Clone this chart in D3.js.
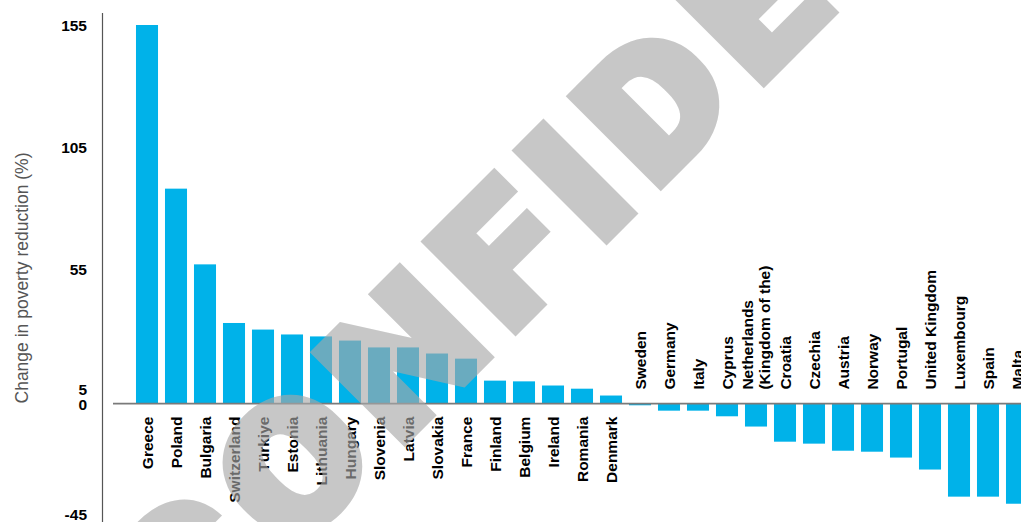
<!DOCTYPE html>
<html>
<head>
<meta charset="utf-8">
<script src="https://cdn.jsdelivr.net/npm/d3@7"></script>
<style>
  html, body { margin: 0; padding: 0; background: #fff; }
  svg { display: block; }
</style>
</head>
<body>
<svg id="chart" width="1021" height="522"></svg>
<script>
const countries = ["Greece","Poland","Bulgaria","Switzerland","Türkiye","Estonia","Lithuania","Hungary","Slovenia","Latvia","Slovakia","France","Finland","Belgium","Ireland","Romania","Denmark","Sweden","Germany","Italy","Cyprus","Netherlands|(Kingdom of the)","Croatia","Czechia","Austria","Norway","Portugal","United Kingdom","Luxembourg","Spain","Malta"];
const values = [155, 88, 57, 33, 30.3, 28.3, 27.5, 25.8, 23, 23, 20.5, 18.4, 9.4, 9.1, 7.4, 6.1, 3.3, -0.7, -2.9, -2.9, -5.2, -9.4, -15.6, -16.4, -19.3, -19.7, -22.1, -27, -38.1, -38.1, -41];
const yTicks = [-45, 0, 5, 55, 105, 155];
const yTitle = "Change in poverty reduction (%)";
const watermark = "CONFIDENTIAL";

const svg = d3.select("#chart");
const W = 1021, H = 522;
const data = countries.map((c, i) => ({ key: c, lines: c.split("|"), v: values[i] }));

const x = d3.scaleBand().domain(countries).range([132.5, 132.5 + 29 * countries.length])
  .paddingInner(0.24).paddingOuter(0.12);
const y = d3.scaleLinear().domain([-45, 155]).range([513.5, 25]);

// vertical axis line
svg.append("line").attr("x1", 102.5).attr("x2", 102.5).attr("y1", 13).attr("y2", H)
  .attr("stroke", "#555").attr("stroke-width", 1.2);

// y tick labels
const yAxis = d3.axisLeft(y).tickValues(yTicks).tickSize(0).tickPadding(0)
  .tickFormat(d => String(d));
const gy = svg.append("g").attr("transform", "translate(87,0)").call(yAxis);
gy.select(".domain").remove();
gy.selectAll("text").attr("font-family", "'Liberation Sans', Arial, sans-serif")
  .attr("font-weight", "bold").attr("font-size", 15.5).attr("fill", "#000")
  .attr("dy", d => d === 5 ? "0.2em" : "0.36em");

// y title
svg.append("text").attr("transform", `translate(28,278) rotate(-90)`)
  .attr("text-anchor", "middle").attr("font-family", "'Liberation Sans', Arial, sans-serif")
  .attr("font-size", 17.5).attr("fill", "#555").text(yTitle);

// bars
svg.append("g").selectAll("rect").data(data).join("rect")
  .attr("x", d => x(d.key)).attr("width", x.bandwidth())
  .attr("y", d => y(Math.max(0, d.v))).attr("height", d => Math.abs(y(d.v) - y(0)))
  .attr("fill", "#00b2e9");

// zero line
svg.append("line").attr("x1", 113).attr("x2", W).attr("y1", y(0)).attr("y2", y(0))
  .attr("stroke", "#7a7a7a").attr("stroke-width", 1.6);

// category labels
const lab = svg.append("g").selectAll("text").data(data).join("text")
  .attr("transform", d => {
    const cx = x(d.key) + x.bandwidth() / 2;
    const ty = d.v >= 0 ? y(0) + 13 : y(0) - 14;
    return `translate(${cx},${ty}) rotate(-90)`;
  })
  .attr("text-anchor", d => d.v >= 0 ? "end" : "start")
  .attr("font-family", "'Liberation Sans', Arial, sans-serif")
  .attr("font-weight", "bold").attr("font-size", 15.5).attr("fill", "#000");
lab.each(function(d) {
  const t = d3.select(this);
  const n = d.lines.length;
  d.lines.forEach((line, i) => {
    t.append("tspan").attr("x", 0).attr("y", (i - (n - 1) / 2) * 17.5).attr("dy", "0.36em").text(line);
  });
});

// watermark: fit font size / stroke / spacing / width to the reference glyph geometry
const wmFont = "Roboto, Inter, Lato, 'DejaVu Sans', sans-serif";
const ctx = document.createElement("canvas").getContext("2d");
ctx.font = `900 100px ${wmFont}`;
const mI = ctx.measureText("I");
const capH = mI.actualBoundingBoxAscent;
const stemW = mI.actualBoundingBoxLeft + mI.actualBoundingBoxRight;
const targetCap = 136, targetStem = 42;
let fs = 100 * (targetCap - targetStem) / (capH - stemW);
let sw = targetStem - stemW * fs / 100;
if (sw < 0) { sw = 0; fs = 100 * targetCap / capH; }
ctx.font = `900 ${fs}px ${wmFont}`;
const pre = k => ctx.measureText(watermark.slice(0, k)).width;
const mc = k => ctx.measureText(watermark[k]);
const leftEdge = k => pre(k) - mc(k).actualBoundingBoxLeft - sw / 2;
const rightEdge = k => pre(k) + mc(k).actualBoundingBoxRight + sw / 2;
// reference ink edges along the baseline direction (index, edge, target)
const refEdges = [[1,"L",-197],[1,"R",-51],[2,"R",100],[3,"L",130],[3,"R",233],[4,"L",259],[4,"R",301],[5,"L",332],[5,"R",440],[6,"L",482]];
// model: s = sx*a + k*q + s0   (q = sx*ls)
const rows = refEdges.map(([k, e, t]) => [e === "L" ? leftEdge(k) : rightEdge(k), k, 1, t]);
const M = [[0,0,0],[0,0,0],[0,0,0]], V = [0,0,0];
rows.forEach(r => { for (let i = 0; i < 3; i++) { V[i] += r[i] * r[3]; for (let j = 0; j < 3; j++) M[i][j] += r[i] * r[j]; } });
function solve3(A, b) {
  const m = A.map((r, i) => [...r, b[i]]);
  for (let c = 0; c < 3; c++) {
    let p = c; for (let r = c + 1; r < 3; r++) if (Math.abs(m[r][c]) > Math.abs(m[p][c])) p = r;
    [m[c], m[p]] = [m[p], m[c]];
    for (let r = 0; r < 3; r++) if (r !== c) { const f = m[r][c] / m[c][c]; for (let k = c; k < 4; k++) m[r][k] -= f * m[c][k]; }
  }
  return m.map((r, i) => r[3] / r[i]);
}
const [sx, q, s0] = solve3(M, V);
const ls = q / sx;
const B = 852 - (sw / 2) * Math.SQRT2;
const tx = (B + s0 * Math.SQRT2) / 2, ty = (B - s0 * Math.SQRT2) / 2;

svg.append("text")
  .attr("transform", `translate(${tx},${ty}) rotate(-45) scale(${sx},1)`)
  .attr("font-family", wmFont)
  .attr("font-weight", 900).attr("font-size", fs)
  .attr("letter-spacing", ls)
  .attr("fill", "#a8a8a8").attr("stroke", "#a8a8a8").attr("stroke-width", sw)
  .attr("stroke-linejoin", "miter")
  .attr("opacity", 0.63)
  .text(watermark);
</script>
</body>
</html>
